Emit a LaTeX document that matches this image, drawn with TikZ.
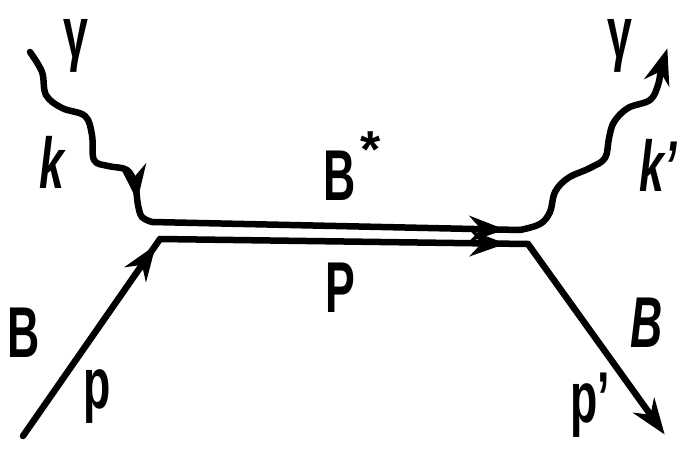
\documentclass[tikz,border=0pt]{standalone}
\usepackage{fontspec}
\setmainfont{Liberation Sans}
\usetikzlibrary{arrows.meta,decorations.markings}

\tikzset{
  line/.style={line width=6.5pt, line join=round, line cap=round},
  midarrow/.style={postaction={decorate}, decoration={markings,
    mark=at position #1 with {\arrow{Stealth[length=36pt,width=26pt]}}}},
  endarrow/.style={-{Stealth[length=36pt,width=26pt]}, shorten >=-8pt},
  lbl/.style={font=\fontsize{72}{72}\selectfont\bfseries, xscale=0.62, transform shape, inner sep=0pt}
}

\begin{document}
\begin{tikzpicture}[x=1pt,y=-1pt]
  \useasboundingbox (0,0) rectangle (685,450);
  % vertices and free ends
  \coordinate (gin) at (30,52);
  \coordinate (gout) at (665,56);
  \coordinate (bin) at (23,436);
  \coordinate (bout) at (660,428);
  \coordinate (uleft) at (152,222);
  \coordinate (uright) at (520,230);
  \coordinate (lleft) at (160,239);
  \coordinate (lright) at (528,244);

  % incoming photon
  \draw[line, midarrow=0.88] plot[smooth, tension=0.6] coordinates {
    (gin) (42,72) (46,95) (62,108) (85,116) (92,135) (94,160) (108,166)
    (127,170) (135,185) (138,205) (142,217) (uleft)};
  % B* line
  \draw[line, midarrow=0.96] (uleft) -- (uright);
  % outgoing photon
  \draw[line, endarrow] plot[smooth, tension=0.6] coordinates {
    (uright) (540,224) (550,212) (555,192) (568,178) (590,168) (605,158)
    (609,138) (614,122) (628,108) (650,100) (658,85) (661,70) (gout)};
  % B lines
  \draw[line, midarrow=0.97] (bin) -- (lleft);
  \draw[line, midarrow=0.94] (lleft) -- (lright);
  \draw[line, endarrow] (lright) -- (bout);

  % labels
  \node[lbl] (gamL) at (76,46) {γ};
  \node[lbl] (kin) at (52,162) {\itshape k};
  \node[lbl] (gamR) at (620,46) {γ};
  \node[lbl] (kout) at (658,165) {\itshape k'};
  \node[lbl] (bstar) at (340,176) {B};
  \node[font=\fontsize{52}{52}\selectfont\bfseries, inner sep=0pt] (star) at (371,150) {*};
  \node[lbl] (pmid) at (340,288) {P};
  \node[lbl] (bl) at (24,333) {B};
  \node[lbl] (pl) at (97,397) {p};
  \node[lbl] (br) at (647,323) {\itshape B};
  \node[lbl] (pr) at (590,405) {p'};
\end{tikzpicture}
\end{document}
